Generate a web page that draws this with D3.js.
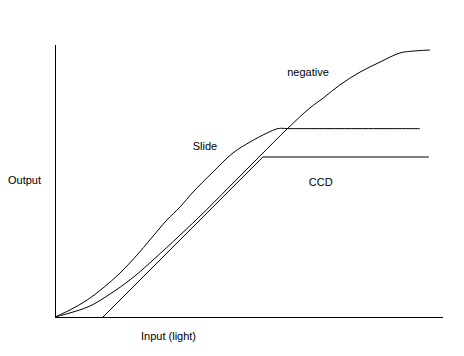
<!DOCTYPE html>
<html>
<head>
<meta charset="utf-8">
<script src="https://cdn.jsdelivr.net/npm/d3@7"></script>
<style>
  html, body { margin: 0; padding: 0; background: #fff; }
  svg { display: block; }
  text { font-family: "Liberation Sans", Arial, sans-serif; font-size: 11px; fill: #000; }
</style>
</head>
<body>
<div id="chart"></div>
<script>
// Input (light) on x, Output on y, both on a 0-100 relative scale
const slideX = [0, 3.9, 8.3, 12.4, 16.8, 21.2, 24.5, 28.9, 32.3, 35.7, 40.8, 46.0, 50.4, 54.8, 57.6, 60.7, 94.3];
const slideY = [0, 2.6, 6.2, 10.6, 16.1, 22.7, 28.2, 35.5, 40.3, 45.8, 53.1, 60.1, 64.1, 67.4, 69.0, 69.0, 69.0];

const negativeX = [0, 3.9, 9.0, 14.2, 19.4, 24.5, 37.0, 45.0, 52.7, 60.2, 65.9, 69.3, 73.6, 78.8, 84.0, 89.1, 92.5, 96.9];
const negativeY = [0, 1.5, 4.0, 8.4, 13.6, 19.8, 36.3, 47.6, 58.6, 69.2, 76.6, 80.2, 85.0, 89.7, 93.4, 96.7, 97.4, 97.8];

const ccdX = [12.4, 53.7, 96.6];
const ccdY = [0, 58.6, 58.6];

const seriesLabels = ["Slide", "negative", "CCD"];
const xTitle = "Input (light)";
const yTitle = "Output";

const W = 464, H = 356;
const svg = d3.select("#chart").append("svg").attr("width", W).attr("height", H);

const x = d3.scaleLinear().domain([0, 100]).range([55, 442]);
const y = d3.scaleLinear().domain([0, 100]).range([317, 44]);

// axes (no ticks)
svg.append("g").attr("transform", `translate(0,${y(0)})`)
  .call(d3.axisBottom(x).tickValues([]).tickSizeOuter(0))
  .call(g => g.select(".domain").attr("stroke", "#000").attr("shape-rendering", "crispEdges"));
svg.append("g").attr("transform", `translate(${x(0)},0)`)
  .call(d3.axisLeft(y).tickValues([]).tickSizeOuter(0))
  .call(g => g.select(".domain").attr("stroke", "#000").attr("shape-rendering", "crispEdges"));

const zip = (xs, ys) => xs.map((v, i) => [v, ys[i]]);

const smooth = d3.line().x(d => x(d[0])).y(d => y(d[1])).curve(d3.curveCatmullRom.alpha(0.5));
const straight = d3.line().x(d => x(d[0])).y(d => y(d[1]));

svg.append("path").datum(zip(slideX, slideY)).attr("d", smooth)
  .attr("fill", "none").attr("stroke", "#000").attr("stroke-width", 1);
svg.append("path").datum(zip(negativeX, negativeY)).attr("d", smooth)
  .attr("fill", "none").attr("stroke", "#000").attr("stroke-width", 1);
svg.append("path").datum(zip(ccdX, ccdY)).attr("d", straight)
  .attr("fill", "none").attr("stroke", "#000").attr("stroke-width", 1);

// labels
svg.append("text").attr("x", x(35.6)).attr("y", y(61.3)).text(seriesLabels[0]);
svg.append("text").attr("x", x(60.0)).attr("y", y(88.3)).text(seriesLabels[1]);
svg.append("text").attr("x", x(65.6)).attr("y", y(48.0)).text(seriesLabels[2]);

svg.append("text").attr("x", 8).attr("y", 184).text(yTitle);
svg.append("text").attr("x", 141).attr("y", 340).text(xTitle);
</script>
</body>
</html>
